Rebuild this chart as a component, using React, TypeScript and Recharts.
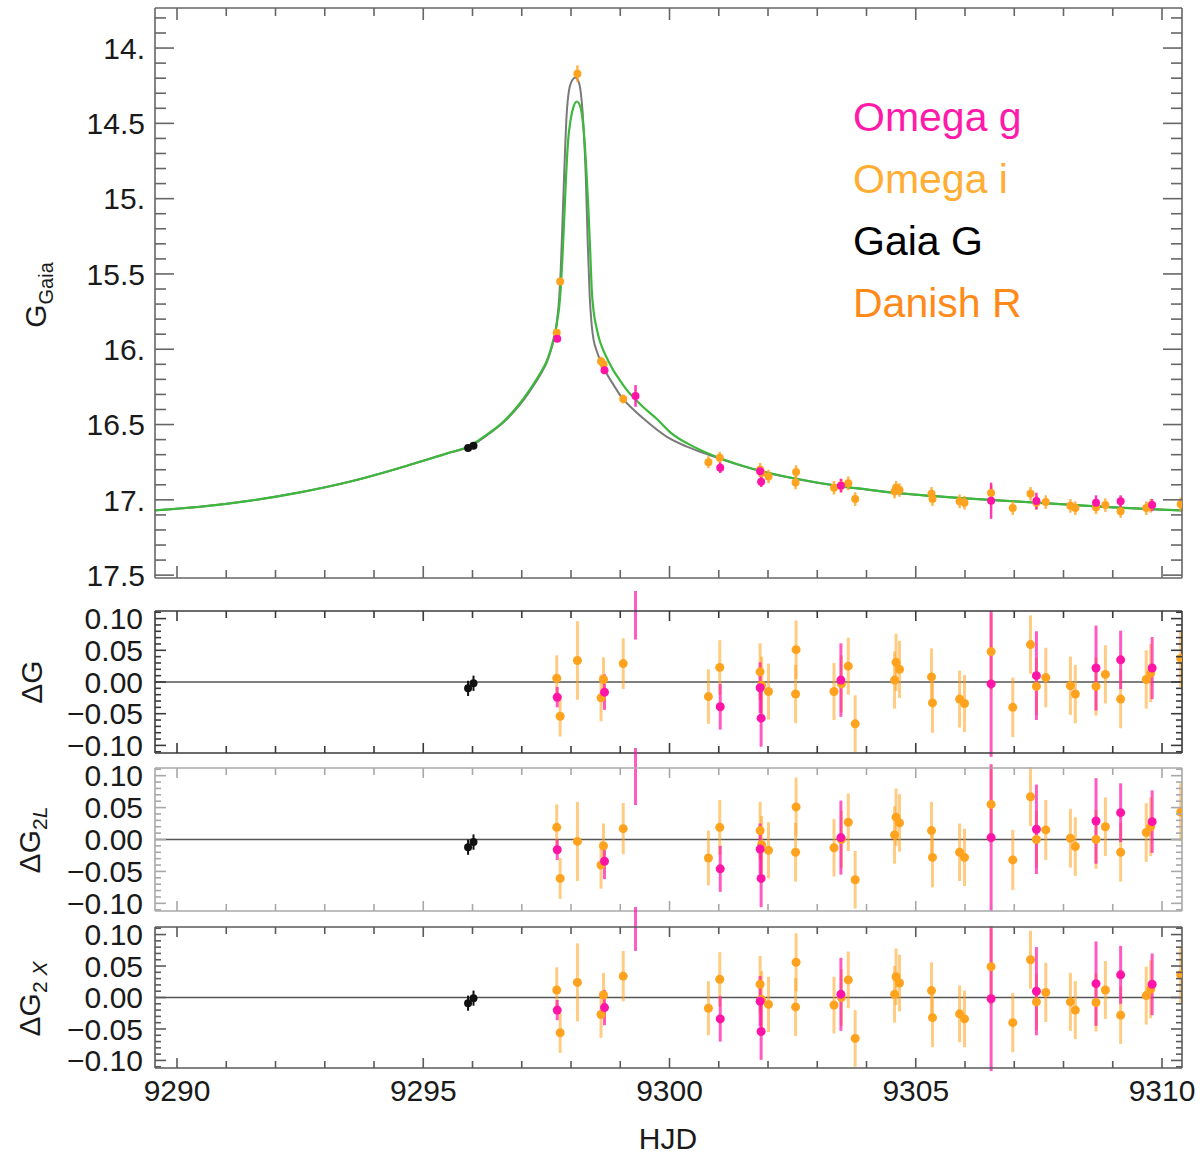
import React from 'react';
import { ComposedChart, Scatter, Line, XAxis, YAxis, ErrorBar, ReferenceLine } from 'recharts';

const FONT = '"Liberation Sans", Arial, Helvetica, sans-serif';

// ---------- axes ----------
const X_DOMAIN = [9289.553, 9310.406];
const X_TICKS = [9290, 9291, 9292, 9293, 9294, 9295, 9296, 9297, 9298, 9299, 9300, 9301, 9302, 9303, 9304, 9305, 9306, 9307, 9308, 9309, 9310];
const X_MAJOR = [9290, 9295, 9300, 9305, 9310];
const X_LABELS = ['9290', '9295', '9300', '9305', '9310'];

const MAG_DOMAIN = [13.734, 17.519];
const MAG_MAJOR = [14, 14.5, 15, 15.5, 16, 16.5, 17, 17.5];
const MAG_LABELS = ['14.', '14.5', '15.', '15.5', '16.', '16.5', '17.', '17.5'];

const RES_DOMAIN = [-0.112, 0.112];
const RES_MAJOR = [0.1, 0.05, 0, -0.05, -0.1];
const RES_LABELS = ['0.10', '0.05', '0.00', '\u22120.05', '\u22120.10'];

const MAG_TICKS: number[] = [];
for (let k = 138; k <= 175; k++) MAG_TICKS.push(k / 10);
const RES_TICKS: number[] = [];
for (let k = -11; k <= 11; k++) RES_TICKS.push(k / 100);

// ---------- model curves ----------
const greenT = [9289.553, 9290.5, 9291.5, 9292.5, 9293.5, 9294.5, 9295.0, 9295.5, 9295.95, 9296.3, 9296.63, 9296.96, 9297.15, 9297.3, 9297.42, 9297.51, 9297.58, 9297.64, 9297.69, 9297.72, 9297.76, 9297.79, 9297.82, 9297.86, 9297.9, 9297.94, 9297.99, 9298.05, 9298.12, 9298.19, 9298.25, 9298.3, 9298.35, 9298.39, 9298.42, 9298.46, 9298.52, 9298.58, 9298.66, 9298.76, 9298.86, 9299.0, 9299.13, 9299.3, 9299.47, 9299.75, 9300.01, 9300.54, 9301.0, 9301.5, 9302.0, 9302.5, 9303.0, 9303.5, 9304.0, 9304.5, 9305.0, 9306.0, 9307.0, 9308.0, 9309.0, 9310.0, 9310.406];
const greenM = [17.07, 17.045, 17.005, 16.95, 16.88, 16.79, 16.74, 16.69, 16.64, 16.565, 16.48, 16.36, 16.275, 16.2, 16.135, 16.075, 16.01, 15.94, 15.87, 15.81, 15.72, 15.6, 15.43, 15.15, 14.85, 14.62, 14.48, 14.39, 14.355, 14.39, 14.52, 14.74, 15.05, 15.35, 15.6, 15.75, 15.86, 15.94, 16.01, 16.08, 16.14, 16.21, 16.27, 16.33, 16.385, 16.465, 16.55, 16.655, 16.72, 16.775, 16.82, 16.855, 16.885, 16.91, 16.93, 16.95, 16.965, 16.99, 17.01, 17.03, 17.05, 17.065, 17.07];

const grayT = [9289.553, 9290.5, 9291.5, 9292.5, 9293.5, 9294.5, 9295.0, 9295.5, 9295.95, 9296.3, 9296.63, 9296.96, 9297.15, 9297.3, 9297.42, 9297.51, 9297.58, 9297.64, 9297.69, 9297.72, 9297.76, 9297.79, 9297.82, 9297.86, 9297.91, 9297.96, 9298.03, 9298.09, 9298.15, 9298.2, 9298.25, 9298.3, 9298.34, 9298.38, 9298.42, 9298.46, 9298.52, 9298.6, 9298.72, 9298.87, 9299.03, 9299.25, 9299.47, 9299.94, 9300.34, 9300.7, 9301.0, 9301.5, 9302.0, 9302.5, 9303.0, 9303.5, 9304.0, 9304.5, 9305.0, 9306.0, 9307.0, 9308.0, 9309.0, 9310.0, 9310.406];
const grayM = [17.07, 17.045, 17.005, 16.95, 16.88, 16.79, 16.74, 16.69, 16.645, 16.57, 16.485, 16.37, 16.285, 16.21, 16.145, 16.085, 16.02, 15.95, 15.875, 15.8, 15.66, 15.48, 15.22, 14.85, 14.45, 14.28, 14.21, 14.195, 14.22, 14.3, 14.5, 14.85, 15.3, 15.65, 15.84, 15.94, 16.01, 16.08, 16.16, 16.24, 16.32, 16.395, 16.46, 16.58, 16.645, 16.69, 16.725, 16.778, 16.822, 16.857, 16.886, 16.911, 16.931, 16.951, 16.966, 16.99, 17.01, 17.03, 17.05, 17.065, 17.07];

// ---------- Omega i (orange) ----------
const orangeT = [9297.71, 9297.78, 9298.13, 9298.61, 9298.66, 9299.06, 9300.79, 9301.02, 9301.84, 9301.87, 9302.01, 9302.57, 9302.56, 9303.34, 9303.49, 9303.63, 9303.77, 9304.57, 9304.6, 9304.67, 9305.32, 9305.34, 9305.89, 9305.99, 9306.53, 9306.97, 9307.33, 9307.45, 9307.64, 9308.14, 9308.24, 9308.66, 9308.85, 9309.16, 9309.68, 9309.77, 9310.38];
const orangeMag = [15.89, 15.55, 14.17, 16.08, 16.1, 16.33, 16.75, 16.72, 16.8, 16.82, 16.845, 16.815, 16.885, 16.92, 16.905, 16.89, 16.995, 16.945, 16.92, 16.935, 16.96, 16.995, 17.01, 17.02, 16.955, 17.055, 16.96, 17.02, 17.015, 17.04, 17.055, 17.05, 17.035, 17.075, 17.055, 17.04, 17.03];
const orangeMagErr = [0.02, 0.02, 0.055, 0.03, 0.03, 0.03, 0.04, 0.04, 0.045, 0.045, 0.045, 0.045, 0.045, 0.045, 0.045, 0.045, 0.045, 0.045, 0.045, 0.045, 0.045, 0.045, 0.045, 0.045, 0.05, 0.045, 0.045, 0.045, 0.045, 0.045, 0.045, 0.045, 0.045, 0.045, 0.045, 0.045, 0.045];
const orangeResG = [0.006, -0.054, 0.034, -0.025, 0.004, 0.029, -0.023, 0.023, 0.016, -0.005, -0.015, 0.051, -0.019, -0.015, -0.003, 0.025, -0.066, 0.003, 0.031, 0.02, 0.008, -0.033, -0.027, -0.034, 0.048, -0.04, 0.059, -0.007, 0.007, -0.006, -0.019, -0.007, 0.012, -0.027, 0.004, 0.014, 0.037];
const orangeRes2L = [0.019, -0.061, -0.003, -0.04, -0.01, 0.017, -0.029, 0.019, 0.014, -0.008, -0.017, 0.051, -0.02, -0.013, 0.0, 0.027, -0.063, 0.007, 0.035, 0.026, 0.014, -0.028, -0.02, -0.028, 0.055, -0.032, 0.067, 0.0, 0.015, 0.002, -0.011, 0.0, 0.02, -0.02, 0.011, 0.02, 0.043];
const orangeRes2X = [0.012, -0.056, 0.024, -0.027, 0.004, 0.034, -0.017, 0.029, 0.021, -0.003, -0.011, 0.056, -0.015, -0.012, 0.0, 0.028, -0.065, 0.005, 0.033, 0.023, 0.011, -0.032, -0.026, -0.034, 0.049, -0.04, 0.06, -0.007, 0.008, -0.007, -0.02, -0.008, 0.012, -0.028, 0.003, 0.013, 0.036];
const orangeResErr = [0.036, 0.032, 0.062, 0.037, 0.035, 0.04, 0.043, 0.043, 0.045, 0.045, 0.044, 0.046, 0.046, 0.045, 0.045, 0.045, 0.045, 0.045, 0.045, 0.045, 0.045, 0.047, 0.045, 0.045, 0.06, 0.047, 0.046, 0.045, 0.047, 0.046, 0.046, 0.046, 0.046, 0.046, 0.046, 0.046, 0.045];

// ---------- Omega g (magenta) ----------
const magentaT = [9297.72, 9298.68, 9299.31, 9301.03, 9301.84, 9301.86, 9303.48, 9306.53, 9307.45, 9308.66, 9309.16, 9309.8];
const magentaMag = [15.93, 16.14, 16.31, 16.787, 16.81, 16.88, 16.906, 17.006, 17.008, 17.02, 17.01, 17.035];
const magentaMagErr = [0.012, 0.025, 0.072, 0.035, 0.035, 0.035, 0.045, 0.12, 0.055, 0.05, 0.04, 0.04];
const magentaResG = [-0.024, -0.016, 0.13, -0.039, -0.009, -0.057, 0.003, -0.003, 0.01, 0.022, 0.035, 0.022];
const magentaRes2L = [-0.016, -0.034, 0.13, -0.046, -0.015, -0.061, 0.003, 0.003, 0.016, 0.029, 0.042, 0.028];
const magentaRes2X = [-0.02, -0.016, 0.13, -0.034, -0.006, -0.054, 0.005, -0.002, 0.01, 0.022, 0.036, 0.021];
const magentaErrG = [0.016, 0.028, 0.063, 0.036, 0.04, 0.045, 0.058, 0.115, 0.07, 0.067, 0.046, 0.049];
const magentaErr2L = [0.016, 0.028, 0.076, 0.036, 0.04, 0.045, 0.058, 0.115, 0.07, 0.067, 0.046, 0.049];
const magentaErr2X = [0.016, 0.028, 0.056, 0.036, 0.04, 0.045, 0.058, 0.115, 0.07, 0.067, 0.046, 0.049];

// ---------- Gaia G (black) ----------
const gaiaT = [9295.91, 9296.02];
const gaiaMag = [16.655, 16.64];
const gaiaMagErr = [0.01, 0.01];
const gaiaResG = [-0.01, -0.002];
const gaiaRes2L = [-0.012, -0.004];
const gaiaRes2X = [-0.009, -0.001];
const gaiaResErr = [0.012, 0.012];

// ---------- legend ----------
const LEGEND_NAMES = ['Omega g', 'Omega i', 'Gaia G', 'Danish R'];
const LEGEND_COLORS = ['#ff1aaa', '#ffad33', '#000000', '#ff8a1a'];

const C_ORANGE = '#ffa31f';
const C_MAGENTA = '#ff14a8';
const C_BLACK = '#111111';

// ---------- tables built from the arrays ----------
const greenCurve = greenT.map((t, i) => ({ t, m: greenM[i] }));
const grayCurve = grayT.map((t, i) => ({ t, m: grayM[i] }));
const orangeData = orangeT.map((t, i) => ({ t, m: orangeMag[i], e: orangeMagErr[i], rG: orangeResG[i], r2L: orangeRes2L[i], r2X: orangeRes2X[i], eG: orangeResErr[i], e2L: orangeResErr[i], e2X: orangeResErr[i] }));
const magentaData = magentaT.map((t, i) => ({ t, m: magentaMag[i], e: magentaMagErr[i], rG: magentaResG[i], r2L: magentaRes2L[i], r2X: magentaRes2X[i], eG: magentaErrG[i], e2L: magentaErr2L[i], e2X: magentaErr2X[i] }));
const gaiaData = gaiaT.map((t, i) => ({ t, m: gaiaMag[i], e: gaiaMagErr[i], rG: gaiaResG[i], r2L: gaiaRes2L[i], r2X: gaiaRes2X[i], eG: gaiaResErr[i], e2L: gaiaResErr[i], e2X: gaiaResErr[i] }));

const near = (a: number, b: number) => Math.abs(a - b) < 1e-6;

function makeXTick(side: 'top' | 'bottom', color: string, majLen: number, minLen: number, labels: boolean) {
  return (props: any) => {
    const { x, y, payload } = props;
    const v = payload.value;
    const idx = X_MAJOR.findIndex((m) => near(m, v));
    const len = idx >= 0 ? majLen : minLen;
    const d = side === 'bottom' ? -len : len;
    return (
      <g>
        <line x1={x} x2={x} y1={y} y2={y + d} stroke={color} strokeWidth={1.6} />
        {labels && idx >= 0 ? (
          <text x={x} y={y + 33} textAnchor="middle" fontSize={30} fontFamily={FONT} fill="#1a1a1a">
            {X_LABELS[idx]}
          </text>
        ) : null}
      </g>
    );
  };
}

function makeYTick(side: 'left' | 'right', color: string, majors: number[], labels: string[] | null, majLen: number, minLen: number, labelGap: number) {
  return (props: any) => {
    const { x, y, payload } = props;
    const v = payload.value;
    const idx = majors.findIndex((m) => near(m, v));
    const len = idx >= 0 ? majLen : minLen;
    const d = side === 'left' ? len : -len;
    return (
      <g>
        <line x1={x} x2={x + d} y1={y} y2={y} stroke={color} strokeWidth={1.6} />
        {labels && idx >= 0 ? (
          <text x={x - labelGap} y={y} dy="0.36em" textAnchor="end" fontSize={30} fontFamily={FONT} fill="#1a1a1a">
            {labels[idx]}
          </text>
        ) : null}
      </g>
    );
  };
}

const dot = (color: string, r: number) => (p: any) => <circle cx={p.cx} cy={p.cy} r={r} fill={color} />;

const MT = 19;
const MB = 60;

function chartBox(plotTop: number, plotHeight: number) {
  return {
    style: { position: 'absolute' as const, left: 0, top: plotTop - MT - 1, width: 1200, height: plotHeight + MT + MB + 2 },
    height: plotHeight + MT + MB + 2,
  };
}

function axes(frame: string, yKey: string, yDomain: number[], yTicks: number[], reversed: boolean, majors: number[], labels: string[], yMaj: number, yMin: number, xMaj: number, xMin: number, xLabels: boolean, labelGap: number) {
  const axisLine = { stroke: frame, strokeWidth: 1.6 };
  return [
    <XAxis key="xb" xAxisId="b" dataKey="t" type="number" domain={X_DOMAIN} allowDataOverflow ticks={X_TICKS} interval={0} orientation="bottom" height={1} tickSize={0} tickMargin={0} tickLine={false} axisLine={axisLine} tick={makeXTick('bottom', frame, xMaj, xMin, xLabels)} />,
    <XAxis key="xt" xAxisId="t" dataKey="t" type="number" domain={X_DOMAIN} allowDataOverflow ticks={X_TICKS} interval={0} orientation="top" height={1} tickSize={0} tickMargin={0} tickLine={false} axisLine={axisLine} tick={makeXTick('top', frame, xMaj, xMin, false)} />,
    <YAxis key="yl" yAxisId="l" dataKey={yKey} type="number" domain={yDomain} reversed={reversed} allowDataOverflow ticks={yTicks} interval={0} orientation="left" width={155} tickSize={0} tickMargin={0} tickLine={false} axisLine={axisLine} tick={makeYTick('left', frame, majors, labels, yMaj, yMin, labelGap)} />,
    <YAxis key="yr" yAxisId="r" dataKey={yKey} type="number" domain={yDomain} reversed={reversed} allowDataOverflow ticks={yTicks} interval={0} orientation="right" width={1} tickSize={0} tickMargin={0} tickLine={false} axisLine={axisLine} tick={makeYTick('right', frame, majors, null, yMaj, yMin, 0)} />,
  ];
}

function residualPanel(plotTop: number, plotHeight: number, frame: string, rKey: string, eKey: string) {
  const box = chartBox(plotTop, plotHeight);
  return (
    <div style={box.style}>
      <ComposedChart width={1200} height={box.height} margin={{ top: MT, right: 17, bottom: MB, left: 0 }}>
        {axes(frame, rKey, RES_DOMAIN, RES_TICKS, false, RES_MAJOR, RES_LABELS, 11, 6, 10, 7, rKey === 'r2X', 12)}
        <ReferenceLine xAxisId="b" yAxisId="l" y={0} stroke="#555" strokeWidth={1.6} />
        <Scatter xAxisId="b" yAxisId="l" data={orangeData} dataKey={rKey} shape={dot(C_ORANGE, 4.5)} isAnimationActive={false}>
          <ErrorBar dataKey={eKey} direction="y" width={0} stroke={C_ORANGE} strokeOpacity={0.55} strokeWidth={3} />
        </Scatter>
        <Scatter xAxisId="b" yAxisId="l" data={magentaData} dataKey={rKey} shape={dot(C_MAGENTA, 4.5)} isAnimationActive={false}>
          <ErrorBar dataKey={eKey} direction="y" width={0} stroke={C_MAGENTA} strokeOpacity={0.7} strokeWidth={3} />
        </Scatter>
        <Scatter xAxisId="b" yAxisId="l" data={gaiaData} dataKey={rKey} shape={dot(C_BLACK, 4)} isAnimationActive={false}>
          <ErrorBar dataKey={eKey} direction="y" width={0} stroke={C_BLACK} strokeWidth={2} />
        </Scatter>
      </ComposedChart>
    </div>
  );
}

export default function App() {
  const topBox = chartBox(8, 570);
  return (
    <div style={{ position: 'absolute', left: 0, top: 0, width: 1200, height: 1156, background: '#ffffff', fontFamily: FONT }}>
      <div style={topBox.style}>
        <ComposedChart width={1200} height={topBox.height} margin={{ top: MT, right: 17, bottom: MB, left: 0 }}>
          {axes('#666666', 'm', MAG_DOMAIN, MAG_TICKS, true, MAG_MAJOR, MAG_LABELS, 19, 11, 12, 8, false, 10)}
          <Line xAxisId="b" yAxisId="l" data={grayCurve} dataKey="m" type="monotone" stroke="#7a7a7a" strokeWidth={2} dot={false} isAnimationActive={false} />
          <Line xAxisId="b" yAxisId="l" data={greenCurve} dataKey="m" type="monotone" stroke="#3cb83c" strokeWidth={2.2} dot={false} isAnimationActive={false} />
          <Scatter xAxisId="b" yAxisId="l" data={orangeData} dataKey="m" shape={dot(C_ORANGE, 4)} isAnimationActive={false}>
            <ErrorBar dataKey="e" direction="y" width={0} stroke={C_ORANGE} strokeOpacity={0.8} strokeWidth={2.5} />
          </Scatter>
          <Scatter xAxisId="b" yAxisId="l" data={magentaData} dataKey="m" shape={dot(C_MAGENTA, 4)} isAnimationActive={false}>
            <ErrorBar dataKey="e" direction="y" width={0} stroke={C_MAGENTA} strokeOpacity={0.85} strokeWidth={2.5} />
          </Scatter>
          <Scatter xAxisId="b" yAxisId="l" data={gaiaData} dataKey="m" shape={dot(C_BLACK, 4)} isAnimationActive={false}>
            <ErrorBar dataKey="e" direction="y" width={0} stroke={C_BLACK} strokeWidth={2} />
          </Scatter>
        </ComposedChart>
      </div>
      {residualPanel(611, 142, '#3a3a3a', 'rG', 'eG')}
      {residualPanel(768, 143, '#a8a8a8', 'r2L', 'e2L')}
      {residualPanel(927, 141, '#5a5a5a', 'r2X', 'e2X')}
      <svg width={1200} height={1156} style={{ position: 'absolute', left: 0, top: 0, pointerEvents: 'none' }}>
        {LEGEND_NAMES.map((name, i) => (
          <text key={name} x={853} y={131 + i * 62} fontSize={41} fontFamily={FONT} fill={LEGEND_COLORS[i]}>
            {name}
          </text>
        ))}
        <text transform="translate(46,295) rotate(-90)" textAnchor="middle" fontFamily={FONT} fill="#1a1a1a">
          <tspan fontSize={30}>G</tspan>
          <tspan fontSize={20} dy={7}>Gaia</tspan>
        </text>
        <text transform="translate(42,682) rotate(-90)" textAnchor="middle" fontFamily={FONT} fill="#1a1a1a" fontSize={30}>
          {'\u0394G'}
        </text>
        <text transform="translate(40,840) rotate(-90)" textAnchor="middle" fontFamily={FONT} fill="#1a1a1a">
          <tspan fontSize={30}>{'\u0394G'}</tspan>
          <tspan fontSize={21} dy={7}>2</tspan>
          <tspan fontSize={21} fontStyle="italic">L</tspan>
        </text>
        <text transform="translate(40,999) rotate(-90)" textAnchor="middle" fontFamily={FONT} fill="#1a1a1a">
          <tspan fontSize={30}>{'\u0394G'}</tspan>
          <tspan fontSize={21} dy={7}>2</tspan>
          <tspan fontSize={21} fontStyle="italic">{' X'}</tspan>
        </text>
        <text x={668} y={1149} textAnchor="middle" fontFamily={FONT} fill="#1a1a1a" fontSize={30}>
          HJD
        </text>
      </svg>
    </div>
  );
}
